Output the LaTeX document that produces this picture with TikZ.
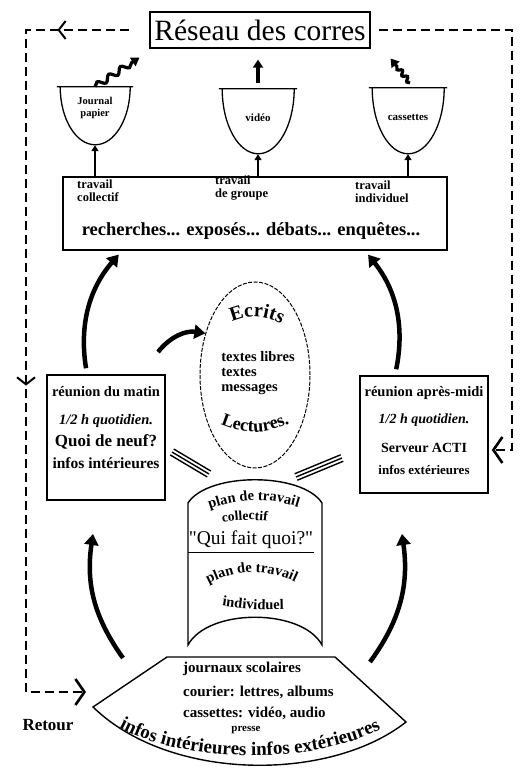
\documentclass[tikz,border=0pt]{standalone}
\usepackage{fontspec}
\setmainfont{Liberation Serif}
\newfontfamily\quifont[Ligatures=TeXOff]{Liberation Serif}
\usetikzlibrary{shapes.geometric,arrows.meta,decorations.pathmorphing,decorations.text,decorations.markings}
\tikzset{box/.style={draw, line width=1.6pt, inner sep=0pt},
txt/.style={font=\bfseries\fontsize{12.5}{13}\selectfont, inner sep=0pt},
cuptxt/.style={font=\bfseries\fontsize{11}{12}\selectfont, align=center, inner sep=0pt},
big arrow/.style={line width=4.5pt, -{Triangle[length=11pt,width=14pt]}},
small arrow/.style={line width=2pt, -{Triangle[length=6pt,width=7pt]}},
retour/.style={line width=2.6pt, dash pattern=on 9pt off 5pt},
}
% bent text, used for the arched words
\newcommand{\arctext}[4]{\path[decorate, decoration={text along path, text align=center,
  text={|\bfseries\fontsize{#1}{#1}\selectfont|#2}}] #3 #4;}

\begin{document}
\begin{tikzpicture}[x=1pt,y=1pt]
\useasboundingbox (0,0) rectangle (524,770);

\node[box, line width=1.2pt, minimum width=220pt, minimum height=36pt,
  font=\fontsize{29.5}{30}\selectfont] (title) at (260,740) {Réseau des corres};

% les supports
\node[minimum width=70pt, minimum height=58pt, inner sep=0pt] (jp) at (95,654) {};
\node[minimum width=72pt, minimum height=65pt, inner sep=0pt] (vid) at (258,648.5) {};
\node[minimum width=72pt, minimum height=66pt, inner sep=0pt] (cas) at (408,649) {};

\foreach \c/\w/\h in {jp/35/58, vid/36/65, cas/36/66}
    \draw[line width=1.3pt] ([xshift=-3pt]\c.north west) -- ([xshift=3pt]\c.north east)
        (\c.north east) arc[start angle=0, end angle=-180, x radius=\w, y radius=\h];

\node[cuptxt, font=\bfseries\fontsize{10.5}{12}\selectfont] (jpt) at (95,662) {Journal\\papier};
\node[cuptxt] (vidt) at (258,652) {vidéo};
\node[cuptxt] (cast) at (408,653) {cassettes};

\node[box, minimum width=384pt, minimum height=73pt] (work) at (255,556.5) {};
\node[txt, align=left, anchor=north west] (coll) at (77,590) {travail\\collectif};
\node[txt, align=left, anchor=north west] (grp) at (215,594) {travail\\de groupe};
\node[txt, align=left, anchor=north west] (indiv) at (355,589) {travail\\individuel};
\node[txt, font=\bfseries\fontsize{18.5}{19}\selectfont] (rech) at (251,539)
    {recherches... exposés... débats... enquêtes...};

\foreach \c in {jp,vid,cas}
    \draw[small arrow] (work.north -| \c) -- (\c.south);

\draw[line width=3.2pt, decorate, decoration={snake, amplitude=3pt, segment length=14pt, post length=8pt},
    -{Triangle[length=8pt,width=10pt]}] (jp.north) -- ([shift={(-10pt,-9pt)}]title.south west);
\draw[line width=3.2pt, shorten <=6pt, shorten >=11pt, -{Triangle[length=8pt,width=10pt]}]
    (vid.north) -- (title.south -| vid);
\draw[line width=3.2pt, decorate, decoration={snake, amplitude=2pt, segment length=8pt, post length=7pt},
    -{Triangle[length=8pt,width=10pt]}] ([shift={(2pt,5pt)}]cas.north) -- ([shift={(20pt,-10pt)}]title.south east);

% ecrits / lectures
\node[ellipse, draw, line width=1pt, dash pattern=on 4pt off 1.5pt, minimum width=110pt,
    minimum height=186pt, inner sep=0pt] (ecrits) at (255,395) {};
\node[txt, align=left, font=\bfseries\fontsize{14.5}{15}\selectfont] (textes) at (258,397)
    {textes libres\\textes\\messages};
\arctext{20}{Ecrits}{(218,438) to[bend left=50]}{(294,434)}
\arctext{18}{Lectures.}{(211,350) to[bend right=30]}{(299,352)}

% reunions
\node[box, minimum width=118pt, minimum height=125pt] (matin) at (106,332.5) {};
\node[txt, font=\bfseries\fontsize{14.5}{15}\selectfont] (m1) at (106,378) {réunion du matin};
\node[txt, font=\bfseries\itshape\fontsize{14.5}{15}\selectfont] (m2) at (106,349) {1/2 h quotidien.};
\node[txt, font=\bfseries\fontsize{17}{18}\selectfont] (m3) at (106,328) {Quoi de neuf?};
\node[txt, font=\bfseries\fontsize{15.5}{16}\selectfont] (m4) at (106,307) {infos intérieures};

\node[box, minimum width=128pt, minimum height=117pt] (aprem) at (424,335.5) {};
\node[txt, font=\bfseries\fontsize{14.5}{15}\selectfont] (a1) at (424,377) {réunion après-midi};
\node[txt, font=\bfseries\itshape\fontsize{14}{15}\selectfont] (a2) at (424,350) {1/2 h quotidien.};
\node[txt, font=\bfseries\fontsize{14}{16}\selectfont] (a3) at (424,322) {Serveur ACTI};
\node[txt, font=\bfseries\fontsize{13}{14}\selectfont] (a4) at (424,300) {infos extérieures};

\draw[big arrow, shorten <=6pt, shorten >=5pt] ([xshift=-19pt]matin.north) to[bend left=25] ([xshift=-133pt]work.south);
\draw[big arrow, shorten <=6pt, shorten >=5pt] ([xshift=-29pt]aprem.north) to[bend right=25] ([xshift=110pt]work.south);

\coordinate (s1) at (158,418);
\draw[big arrow] (s1) to[bend left=30] (ecrits.140);

% les traits
\coordinate (h1) at (172,318);
\coordinate (h2) at (209,296);
\coordinate (h3) at (296,293);
\coordinate (h4) at (342,312);
\foreach \d in {-3.5,0,3.5}{
    \draw[line width=1.4pt] ([shift={(0.5*\d,0.85*\d)}]h1) -- ([shift={(0.5*\d,0.85*\d)}]h2);
    \draw[line width=1.4pt] ([shift={(-0.38*\d,0.92*\d)}]h3) -- ([shift={(-0.38*\d,0.92*\d)}]h4);
}

% plan de travail
\coordinate (p1) at (188,125);
\coordinate (p2) at (188,267);
\coordinate (p3) at (322,267);
\coordinate (p4) at (322,125);
\draw[line width=1.4pt] (p1) -- (p2) .. controls (208,298) and (302,298) .. (p3) -- (p4)
    .. controls (302,162) and (208,162) .. (p1) -- cycle;
\arctext{14.5}{plan de travail}{(201,258) to[bend left=20]}{(307,260)}
\arctext{13.5}{collectif}{(216,246) to[bend left=10]}{(274,248)}
\node[font=\quifont\fontsize{19.5}{20}\selectfont, inner sep=1pt] (qui) at (251,230) {"Qui fait quoi?"};
\draw[line width=1.2pt] ([yshift=-2pt]qui.south west) -- ([yshift=-2pt]qui.south east);
\arctext{14.5}{plan de travail}{(198,180) to[bend left=32]}{(306,182)}
\arctext{14.5}{individuel}{(212,166) to[bend right=6]}{(294,161)}

% infos
\coordinate (f1) at (167,113);
\coordinate (f2) at (335,113);
\coordinate (f3) at (406,48);
\coordinate (f4) at (93,63);
\draw[line width=1.4pt] (f1) -- (f2) -- (f3) .. controls (330,-12) and (170,-12) .. (f4) -- cycle;
\node[txt, anchor=west, font=\bfseries\fontsize{15}{16}\selectfont] (jour) at (183,101) {journaux scolaires};
\node[txt, anchor=west, font=\bfseries\fontsize{15}{16}\selectfont] (cour) at (183,78) {courier: lettres, albums};
\node[txt, anchor=west, font=\bfseries\fontsize{15}{16}\selectfont] (cass) at (183,57) {cassettes: vidéo, audio};
\node[txt, font=\bfseries\fontsize{11}{12}\selectfont] (presse) at (246,40) {presse};
\arctext{19}{infos intérieures infos extérieures}{(102,53) .. controls (170,2) and (330,2) ..}{(398,51)}

\coordinate (la) at (123,112);
\coordinate (lt) at (93,236);
\coordinate (ra) at (370,108);
\coordinate (rt) at (402,236);
\draw[big arrow] (la) to[bend left=22] (lt);
\draw[big arrow] (ra) to[bend right=22] (rt);

% retour
\coordinate (tl) at (26,740);
\coordinate (bl) at (26,78);
\coordinate (rr) at (86,78);
\coordinate (tr) at (512,740);
\coordinate (rb) at (512,320);
\draw[retour, shorten <=20pt, -{Straight Barb[length=9pt,width=26pt]},
    postaction={decorate}, decoration={markings,
    mark=at position 92pt with {\arrow[line width=2pt]{Straight Barb[length=7pt,width=18pt]}},
    mark=at position 479pt with {\arrow[line width=2pt]{Straight Barb[length=7pt,width=18pt]}}}]
    (title.west) -- (tl) -- (bl) -- (rr);
\draw[retour, shorten <=8pt, shorten >=3pt, -{Straight Barb[length=9pt,width=26pt]}]
    (title.east) -- (tr) -- (rb) -- (aprem.east |- rb);
\node[font=\bfseries\fontsize{17}{18}\selectfont] (ret) at (48,45) {Retour};

\end{tikzpicture}
\end{document}
